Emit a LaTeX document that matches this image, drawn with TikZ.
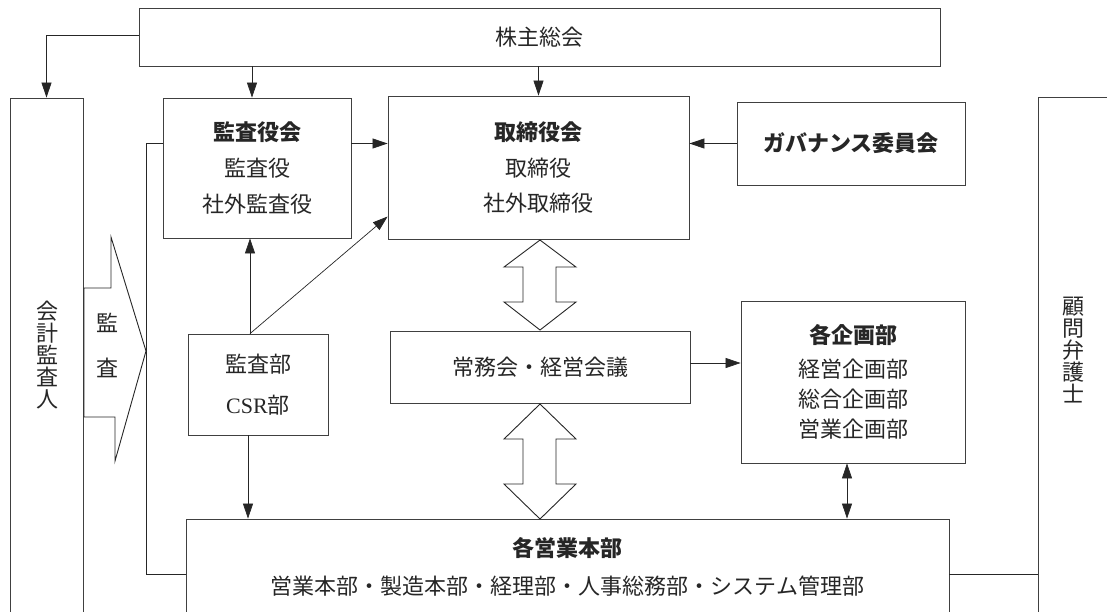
\documentclass[tikz,border=0pt]{standalone}
\usepackage{fontspec}
\newfontfamily\jp{Noto Sans CJK JP}
\newfontfamily\lat{Liberation Serif}
\usetikzlibrary{arrows.meta,calc}
\begin{document}
\begin{tikzpicture}[x=1pt,y=-1pt,
  box/.style={draw=black!75, line width=0.8pt, inner sep=0pt, align=center, text=black!85},
  txt/.style={inner sep=0pt, align=center, text=black!85},
  conn/.style={draw=black!85, line width=0.7pt},
  arr/.style={conn, -{Triangle[length=15pt,width=10pt]}},
  darr/.style={conn, {Triangle[length=15pt,width=10pt]}-{Triangle[length=15pt,width=10pt]}},
  blk/.style={draw=black!85, line width=0.9pt, fill=white, line join=miter},
  f22/.style={font=\jp\fontsize{22}{26}\selectfont},
]
\useasboundingbox (0,0) rectangle (1107,611);
\clip (0,0) rectangle (1107,611);

% boxes
\node[box, f22, minimum width=801pt, minimum height=58pt] (kabu) at (539.5,37) {株主総会};
\node[box, font=\jp\fontsize{22}{36}\selectfont, minimum width=188pt, minimum height=140pt] (kansayaku) at (257,168)
  {{\bfseries 監査役会}\\監査役\\社外監査役};
\node[box, font=\jp\fontsize{22}{35.5}\selectfont, minimum width=301pt, minimum height=143pt] (torishimari) at (538.5,167.5)
  {{\bfseries 取締役会}\\取締役\\社外取締役};
\node[box, f22, minimum width=228pt, minimum height=83pt] (gov) at (851,143.5) {\bfseries ガバナンス委員会};
\node[box, font=\jp\fontsize{22}{30}\selectfont, minimum width=224pt, minimum height=162pt] (kikaku) at (853,382)
  {{\bfseries 各企画部}\\[4pt]経営企画部\\総合企画部\\営業企画部};
\node[box, f22, minimum width=300pt, minimum height=72pt] (joumu) at (540,367) {常務会・経営会議};
\node[box, font=\jp\fontsize{22}{41}\selectfont, minimum width=140pt, minimum height=101pt] (kansabu) at (258,384.5)
  {監査部\\{\lat CSR}部};
\node[box, minimum width=763pt, minimum height=131pt] (eigyo) at (567.5,584.5) {};
\node[txt, font=\jp\fontsize{22}{38}\selectfont] (eigyotxt) at (567.5,567)
  {{\bfseries 各営業本部}\\営業本部・製造本部・経理部・人事総務部・システム管理部};
\node[box, minimum width=73pt, minimum height=552pt] (kaikei) at (46.5,374) {};
\node[txt, font=\jp\fontsize{22}{22}\selectfont] (kaikeitxt) at (47,355) {会\\計\\監\\査\\人};
\node[box, minimum width=82pt, minimum height=553pt] (komon) at (1079,373.5) {};
\node[txt, font=\jp\fontsize{22}{22}\selectfont] (komontxt) at (1073,350) {顧\\問\\弁\\護\\士};

% audit block arrow
\draw[blk] (84,288) -- (111,288) -- (111,237) -- (146,351) -- (115,461) -- (115,417) -- (84,417) -- cycle;
\node[txt, f22] (kan) at (107,323) {監};
\node[txt, f22] (sa) at (107,368) {査};

% double block arrows
\draw[blk] (540,240) -- (576,267) -- (556,267) -- (556,302) -- (576,302) -- (540,330) -- (504,302) -- (523,302) -- (523,267) -- (504,267) -- cycle;
\draw[blk] (540,404) -- (576,439) -- (556,439) -- (556,484) -- (576,484) -- (540,519) -- (504,484) -- (523,484) -- (523,439) -- (504,439) -- cycle;

% connectors
\draw[arr] ([yshift=2pt]kabu.west) -| (kaikei.north);
\draw[arr] ([xshift=-5pt]kansayaku.north |- kabu.south) -- ([xshift=-5pt]kansayaku.north);
\draw[arr] (kabu.south -| torishimari.north) -- (torishimari.north);
\draw[arr] (kansayaku.east |- gov.west) -- (torishimari.west |- gov.west);
\draw[arr] (gov.west) -- (torishimari.east |- gov.west);
\draw[arr] ([xshift=-8pt]kansabu.north) -- ([xshift=-8pt]kansabu.north |- kansayaku.south);
\draw[arr] ([xshift=-8pt]kansabu.north) -- ([yshift=-49pt]torishimari.west);
\draw[arr] ([xshift=-10pt]kansabu.south) -- ([xshift=-10pt]kansabu.south |- eigyo.north);
\draw[conn] (kansayaku.west |- gov.west) -- ++(-16,0) |- ([yshift=10.5pt]eigyo.west);
\draw[arr] ([yshift=4pt]joumu.east) -- ([yshift=4pt]joumu.east -| kikaku.west);
\draw[darr] ([xshift=-6pt]kikaku.south) -- ([xshift=-6pt]kikaku.south |- eigyo.north);
\draw[conn] ([yshift=10.5pt]eigyo.east) -- ([yshift=10.5pt]eigyo.east -| komon.west);
\end{tikzpicture}
\end{document}
